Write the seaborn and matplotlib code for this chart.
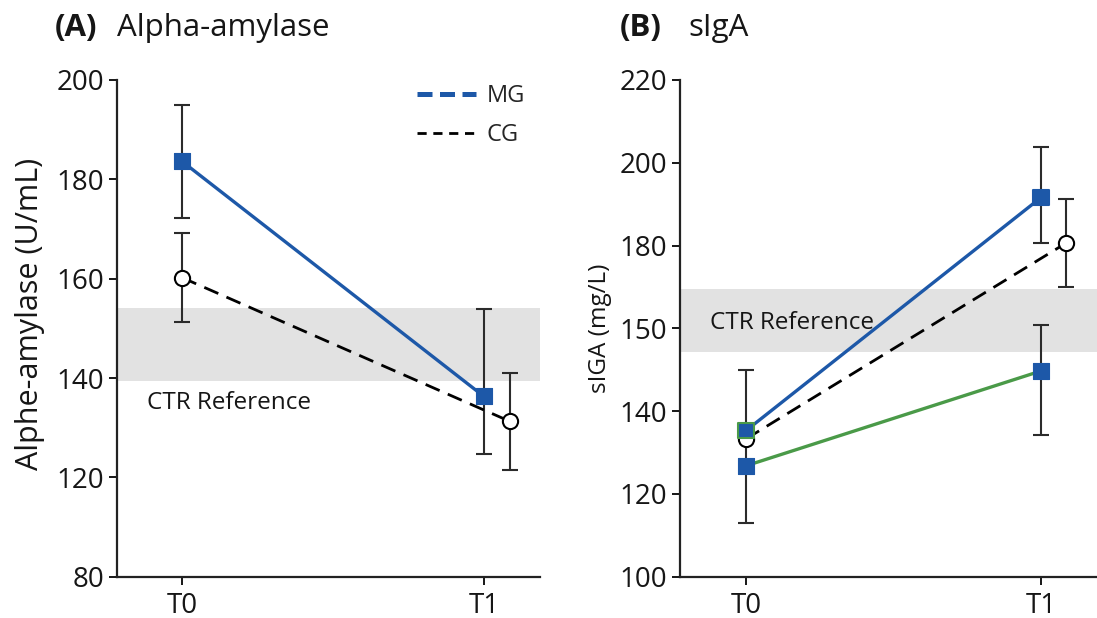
import numpy as np
import pandas as pd
import matplotlib
matplotlib.use("Agg")
import matplotlib.pyplot as plt
from matplotlib.lines import Line2D
import seaborn as sns

# ---------------- data ----------------
times = ["T0", "T1"]

# Panel A: Alpha-amylase
amy_mg = [183.6, 136.3]
amy_mg_lo = [172.3, 124.8]
amy_mg_hi = [194.9, 153.9]
amy_cg = [160.2, 131.3]
amy_cg_lo = [151.3, 121.4]
amy_cg_hi = [169.1, 141.1]
amy_ref = [139.3, 154.1]
amy_ticks = [100, 120, 140, 160, 180, 200]
amy_ticklabels = ["80", "120", "140", "160", "180", "200"]

# Panel B: sIgA
iga_mg = [135.3, 191.6]
iga_mg_lo = [np.nan, 180.6]
iga_mg_hi = [np.nan, 203.9]
iga_cg = [133.3, 180.6]
iga_cg_lo = [np.nan, 169.9]
iga_cg_hi = [np.nan, 191.3]
iga_g3 = [126.8, 149.7]
iga_g3_lo = [112.9, 134.2]
iga_g3_hi = [150.0, 160.9]
iga_ref = [154.3, 169.6]
iga_ticks = [100, 120, 140, 160, 180, 200, 220]
iga_ticklabels = ["100", "120", "140", "150", "180", "200", "220"]

# ---------------- style ----------------
sns.set_theme(style="ticks")
plt.rcParams["font.family"] = ["Open Sans", "DejaVu Sans"]

BLUE = "#1d58a8"
GREEN = "#4a9a48"
ERR = "#2b2b2b"
BAND = "#e2e2e2"
TXT = "#161616"
CG_OFFSET = 0.085

fig = plt.figure(figsize=(10.97, 6.18), dpi=100)
W, H = 1097, 618
axA = fig.add_axes([116.7 / W, (H - 576.7) / H, (540 - 116.7) / W, (576.7 - 80) / H])
axB = fig.add_axes([680 / W, (H - 576.7) / H, (1097 - 680) / W, (576.7 - 80) / H])

x = np.arange(len(times), dtype=float)


def err(vals, lo, hi):
    v = np.array(vals, float)
    return np.vstack([v - np.array(lo, float), np.array(hi, float) - v])


def series_df(xs, ys):
    return pd.DataFrame({"x": xs, "y": ys})


def errbars(ax, xs, ys, lo, hi):
    e = err(ys, lo, hi)
    ax.errorbar(xs, ys, yerr=e, fmt="none", ecolor=ERR, elinewidth=1.5,
                capsize=6, capthick=1.5, zorder=2)


# ---------- Panel A ----------
ax = axA
ax.axhspan(amy_ref[0], amy_ref[1], color=BAND, lw=0, zorder=0)
x_cg = x + np.array([0.0, CG_OFFSET])
errbars(ax, x, amy_mg, amy_mg_lo, amy_mg_hi)
errbars(ax, x_cg, amy_cg, amy_cg_lo, amy_cg_hi)
sns.lineplot(data=series_df(x_cg, amy_cg), x="x", y="y", ax=ax, color="black",
             lw=2.0, zorder=3, legend=False,
             estimator=None, sort=False).lines[-1].set_dashes((5.5, 3.2))
sns.lineplot(data=series_df(x, amy_mg), x="x", y="y", ax=ax, color=BLUE,
             lw=2.4, zorder=4, legend=False, estimator=None, sort=False)
sns.scatterplot(data=series_df(x_cg, amy_cg), x="x", y="y", ax=ax, marker="o",
                s=120, facecolor="white", edgecolor="black", linewidth=1.5,
                zorder=5, legend=False)
sns.scatterplot(data=series_df(x, amy_mg), x="x", y="y", ax=ax, marker="s",
                s=120, color=BLUE, edgecolor=BLUE, linewidth=0.8,
                zorder=6, legend=False)
ax.text(-0.117, 135.0, "CTR Reference", fontsize=17.5, va="center", ha="left",
        color=TXT, zorder=7)
ax.set_xlim(-0.217, 1.186)
ax.set_ylim(100, 200)
ax.set_yticks(amy_ticks)
ax.set_yticklabels(amy_ticklabels)
ax.set_ylabel("Alphe-amylase (U/mL)", fontsize=22, color=TXT, labelpad=5)
ax.yaxis.set_label_coords(-0.17, 0.53)

handles = [Line2D([], [], color=BLUE, lw=3.6, dashes=(3.0, 1.5)),
           Line2D([], [], color="black", lw=2.0, dashes=(3.3, 2.4))]
ax.legend(handles, ["MG", "CG"], loc="upper left", bbox_to_anchor=(0.66, 1.035),
          frameon=False, fontsize=17, handlelength=2.5, handletextpad=0.45,
          labelspacing=0.65)

# ---------- Panel B ----------
ax = axB
ax.axhspan(iga_ref[0], iga_ref[1], color=BAND, lw=0, zorder=0)
errbars(ax, x, iga_mg, iga_mg_lo, iga_mg_hi)
errbars(ax, x_cg, iga_cg, iga_cg_lo, iga_cg_hi)
errbars(ax, x, iga_g3, iga_g3_lo, iga_g3_hi)
sns.lineplot(data=series_df(x, iga_g3), x="x", y="y", ax=ax, color=GREEN,
             lw=2.4, zorder=3, legend=False, estimator=None, sort=False)
sns.lineplot(data=series_df(x_cg, iga_cg), x="x", y="y", ax=ax, color="black",
             lw=2.0, zorder=3, legend=False,
             estimator=None, sort=False).lines[-1].set_dashes((5.5, 3.2))
sns.scatterplot(data=series_df(x_cg, iga_cg), x="x", y="y", ax=ax, marker="o",
                s=120, facecolor="white", edgecolor="black", linewidth=1.5,
                zorder=4, legend=False)
sns.lineplot(data=series_df(x, iga_mg), x="x", y="y", ax=ax, color=BLUE,
             lw=2.4, zorder=5, legend=False, estimator=None, sort=False)
sns.scatterplot(data=series_df(x, iga_mg), x="x", y="y", ax=ax, marker="s",
                s=120, color=BLUE, edgecolor=[GREEN, BLUE], linewidth=1.5,
                zorder=6, legend=False)
sns.scatterplot(data=series_df(x, iga_g3), x="x", y="y", ax=ax, marker="s",
                s=120, color=BLUE, edgecolor=BLUE, linewidth=0.8,
                zorder=6, legend=False)
ax.text(-0.123, 161.4, "CTR Reference", fontsize=17.5, va="center", ha="left",
        color=TXT, zorder=7)
ax.set_xlim(-0.224, 1.19)
ax.set_ylim(100, 220)
ax.set_yticks(iga_ticks)
ax.set_yticklabels(iga_ticklabels)
ax.set_ylabel("sIGA (mg/L)", fontsize=17.5, color=TXT, labelpad=6)

for ax in (axA, axB):
    sns.despine(ax=ax)
    ax.set_xticks(x)
    ax.set_xticklabels(times)
    ax.set_xlabel("")
    for s in ("left", "bottom"):
        ax.spines[s].set_linewidth(1.6)
        ax.spines[s].set_color("#222222")
    ax.tick_params(axis="both", labelsize=20, colors=TXT, width=1.4,
                   length=6, pad=3)
    ax.tick_params(axis="x", pad=5)

fig.text(55 / W, 1 - 28 / H, "(A)", fontsize=22.5, fontweight="bold", va="center",
         color=TXT)
fig.text(117 / W, 1 - 28 / H, "Alpha-amylase", fontsize=22.5, va="center",
         color=TXT)
fig.text(620 / W, 1 - 28 / H, "(B)", fontsize=22.5, fontweight="bold", va="center",
         color=TXT)
fig.text(688 / W, 1 - 28 / H, "sIgA", fontsize=22.5, va="center", color=TXT)

fig.savefig("out.png", dpi=100, facecolor="white")
